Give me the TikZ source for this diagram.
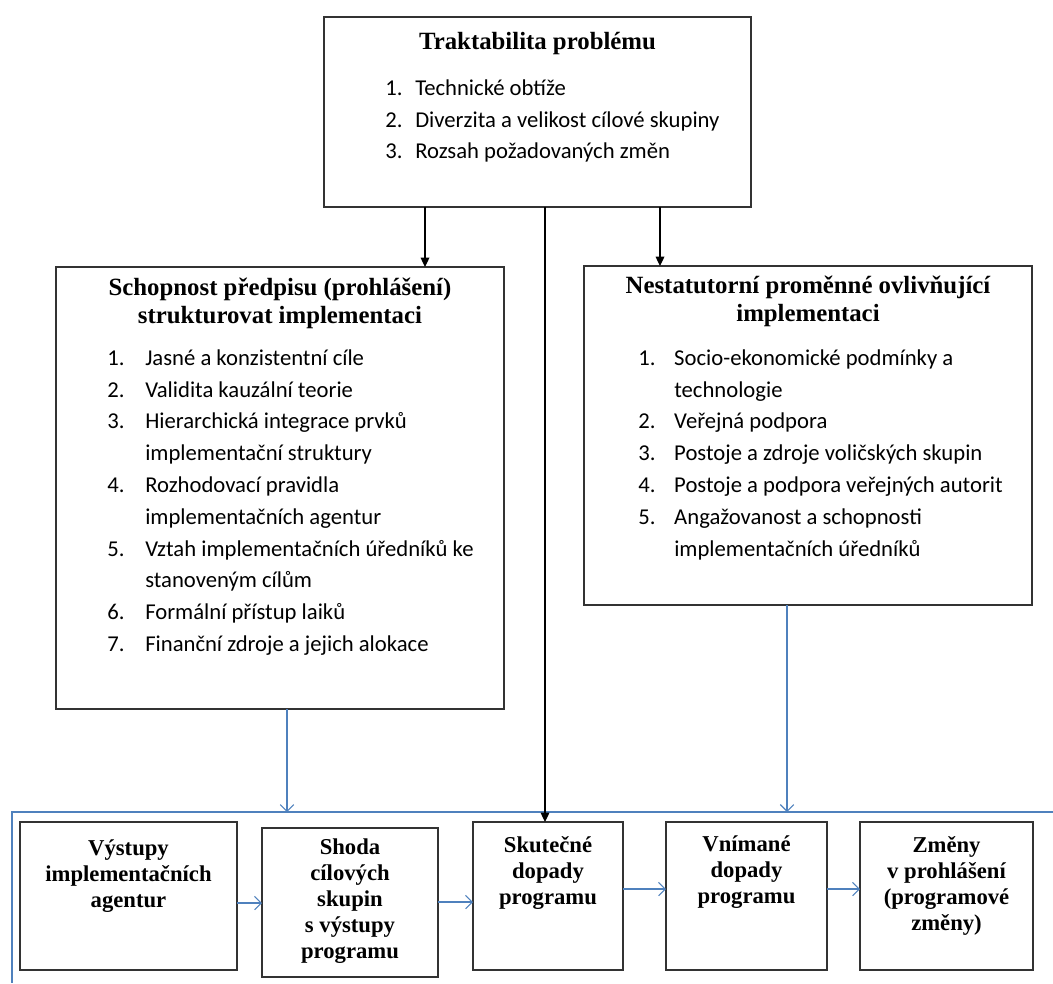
\documentclass[tikz,border=0pt]{standalone}
\usepackage{fontspec}
\setmainfont{Liberation Serif}
\newfontfamily\calibri{Carlito}
\usetikzlibrary{arrows.meta,positioning}
\definecolor{wordblue}{RGB}{79,129,189}
\tikzset{box/.style={draw=black!80,line width=1.1pt,outer sep=0pt,inner sep=0pt},head/.style={font=\bfseries\fontsize{18.6}{21}\selectfont,align=center,anchor=north,inner sep=0pt,execute at begin node=\strut},lst/.style={font=\calibri\fontsize{17}{23.85}\selectfont,align=left,anchor=north west,inner sep=0pt},bhead/.style={font=\bfseries\fontsize{17}{19.5}\selectfont,align=center,anchor=north,inner sep=0pt,execute at begin node=\strut},darr/.style={-{Triangle[length=7pt,width=6.5pt]},line width=0.9pt},barr/.style={-{Straight Barb[length=5pt,width=10pt]},wordblue,line width=0.8pt},frame/.style={wordblue,line width=1pt}}
\newcommand{\itm}[3][28.5pt]{\strut\makebox[#1][l]{#2}#3}

\begin{document}
\begin{tikzpicture}[x=0.75pt,y=-0.75pt]
\useasboundingbox (0,0) rectangle (1053,983);
% top box
\node[box,minimum width=320.25pt,minimum height=142.5pt] (trakt) at (537.5,112) {};
\node[head] (traktH) at (537.5,29.4) {Traktabilita problému};
\node[lst] (traktL) at (385,72.7) {\itm[22.5pt]{1.}{Technické obtíže}\\\itm[22.5pt]{2.}{Diverzita a velikost cílové skupiny}\\\itm[22.5pt]{3.}{Rozsah požadovaných změn}};
% left and right boxes
\node[box,minimum width=336pt,minimum height=331.5pt] (schop) at (280,488) {};
\node[head] (schopH) at (280,277.4) {Schopnost předpisu (prohlášení)\\strukturovat implementaci};
\node[lst] (schopL) at (107,342.7) {\itm{1.}{Jasné a konzistentní cíle}\\\itm{2.}{Validita kauzální teorie}\\\itm{3.}{Hierarchická integrace prvků}\\\itm{}{implementační struktury}\\\itm{4.}{Rozhodovací pravidla}\\\itm{}{implementačních agentur}\\\itm{5.}{Vztah implementačních úředníků ke}\\\itm{}{stanoveným cílům}\\\itm{6.}{Formální přístup laiků}\\\itm{7.}{Finanční zdroje a jejich alokace}};
\node[box,minimum width=336pt,minimum height=254.25pt] (nest) at (808,435.5) {};
\node[head] (nestH) at (808,275.4) {Nestatutorní proměnné ovlivňující\\implementaci};
\node[lst] (nestL) at (638,342.7) {\itm[27pt]{1.}{Socio-ekonomické podmínky a}\\\itm[27pt]{}{technologie}\\\itm[27pt]{2.}{Veřejná podpora}\\\itm[27pt]{3.}{Postoje a zdroje voličských skupin}\\\itm[27pt]{4.}{Postoje a podpora veřejných autorit}\\\itm[27pt]{5.}{Angažovanost a schopnosti}\\\itm[27pt]{}{implementačních úředníků}};
% bottom chain
\coordinate (fr) at (12,812);
\draw[frame] (fr -| 1053,0) -- (fr) -- (fr |- 0,983);
\node[box,minimum width=162.75pt,minimum height=111pt] (outp) at (128.5,896) {};
\node[bhead] (outpT) at (128.5,839.8) {Výstupy\\implementačních\\agentur};
\node[box,minimum width=132pt,minimum height=111.75pt] (comp) at (350,902.5) {};
\node[bhead] (compT) at (350,838.8) {Shoda\\cílových\\skupin\\s výstupy\\programu};
\node[box,minimum width=112.5pt,minimum height=111pt] (real) at (548,896) {};
\node[bhead] (realT) at (548,835.8) {Skutečné\\dopady\\programu};
\node[box,minimum width=120.75pt,minimum height=111pt] (perc) at (746.5,896) {};
\node[bhead] (percT) at (746.5,835.8) {Vnímané\\dopady\\programu};
\node[box,minimum width=129.75pt,minimum height=111pt] (chg) at (946.5,896) {};
\node[bhead] (chgT) at (946.5,835.8) {Změny\\v prohlášení\\(programové\\změny)};
% connectors
\draw[darr] (trakt.south -| 425,0) -- (schop.north -| 425,0);
\draw[darr] (trakt.south -| 660,0) -- (nest.north -| 660,0);
\draw[darr] (trakt.south -| 545,0) -- (real.north -| 545,0);
\draw[barr] (schop.south -| 287,0) -- (fr -| 287,0);
\draw[barr] (nest.south -| 787,0) -- (fr -| 787,0);
\draw[barr] (outp.east |- 0,903) -- (comp.west |- 0,903);
\draw[barr] (comp.east |- 0,902) -- (real.west |- 0,902);
\draw[barr] (real.east |- 0,889) -- (perc.west |- 0,889);
\draw[barr] (perc.east |- 0,889) -- (chg.west |- 0,889);
\end{tikzpicture}
\end{document}
